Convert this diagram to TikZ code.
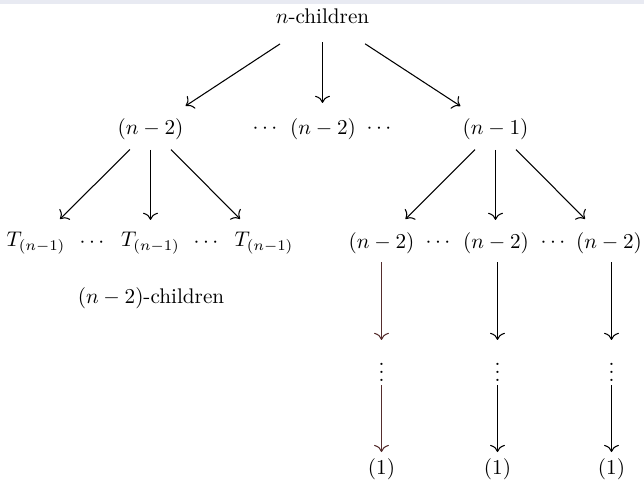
\documentclass[tikz,border=0pt]{standalone}
\usetikzlibrary{arrows.meta}
\definecolor{topband}{RGB}{232,234,242}
\definecolor{chainred}{RGB}{85,45,45}
\begin{document}
\begin{tikzpicture}[x=0.472pt,y=-0.472pt,
  lbl/.style={inner sep=0pt,anchor=center},
  arr/.style={-{To[scale=1.25]},line width=0.5pt},
  d1/.style={arr,shorten <=24pt,shorten >=19.8pt},
  v1/.style={arr,shorten <=12.3pt,shorten >=12.3pt},
  d2/.style={arr,shorten <=13.7pt,shorten >=16pt},
  v2/.style={arr,shorten <=9.9pt,shorten >=10.9pt},
  c1/.style={arr,shorten <=9pt,shorten >=12.3pt},
  c2/.style={arr,shorten <=9pt,shorten >=8pt}]
\useasboundingbox (0,0) rectangle (644,482);
\fill[topband] (0,0) rectangle (644,4);
% level 1
\node[lbl] (top) at (322.5,16) {$n$-children};
% level 2
\node[lbl] (a) at (150.5,129) {$(n-2)$};
\node[lbl] (bd1) at (265,129) {$\cdots$};
\node[lbl] (b) at (323,129) {$(n-2)$};
\node[lbl] (bd2) at (379,129) {$\cdots$};
\node[lbl] (c) at (495.5,129) {$(n-1)$};
% level 3 left
\node[lbl] (t1) at (36,243) {$T_{(n-1)}$};
\node[lbl] (td1) at (92,243) {$\cdots$};
\node[lbl] (t2) at (150.5,243) {$T_{(n-1)}$};
\node[lbl] (td2) at (206,243) {$\cdots$};
\node[lbl] (t3) at (264,243) {$T_{(n-1)}$};
\node[lbl] (nch) at (151,298) {$(n-2)$-children};
% level 3 right
\node[lbl] (r1) at (381.5,243) {$(n-2)$};
\node[lbl] (rd1) at (438,243) {$\cdots$};
\node[lbl] (r2) at (496,243) {$(n-2)$};
\node[lbl] (rd2) at (553,243) {$\cdots$};
\node[lbl] (r3) at (609,243) {$(n-2)$};
% vertical dots
\node[lbl] (v1) at (381.5,366) {$\vdots$};
\node[lbl] (v2) at (497.5,366) {$\vdots$};
\node[lbl] (v3) at (611.5,366) {$\vdots$};
% bottom
\node[lbl] (e1) at (381.5,469) {$(1)$};
\node[lbl] (e2) at (497.5,469) {$(1)$};
\node[lbl] (e3) at (611.5,469) {$(1)$};
% arrows level 1 -> 2
\draw[d1] (top.center) -- (a.center);
\draw[v1] (top.center) -- (top.center |- b.center);
\draw[d1] (top.center) -- (c.center);
% arrows a -> T
\draw[d2] (a.center) -- (t1.center);
\draw[v2] (a.center) -- (t2.center);
\draw[d2] (a.center) -- (t3.center);
% arrows c -> r
\draw[d2] (c.center) -- (r1.center);
\draw[v2] (c.center) -- (c.center |- r2.center);
\draw[d2] (c.center) -- (r3.center);
% chains
\draw[c1,chainred] (r1.center) -- (v1.center);
\draw[c2,chainred] (v1.center) -- (e1.center);
\draw[c1] (v2.center |- r2.center) -- (v2.center);
\draw[c2] (v2.center) -- (e2.center);
\draw[c1] (v3.center |- r3.center) -- (v3.center);
\draw[c2] (v3.center) -- (e3.center);
\end{tikzpicture}
\end{document}
